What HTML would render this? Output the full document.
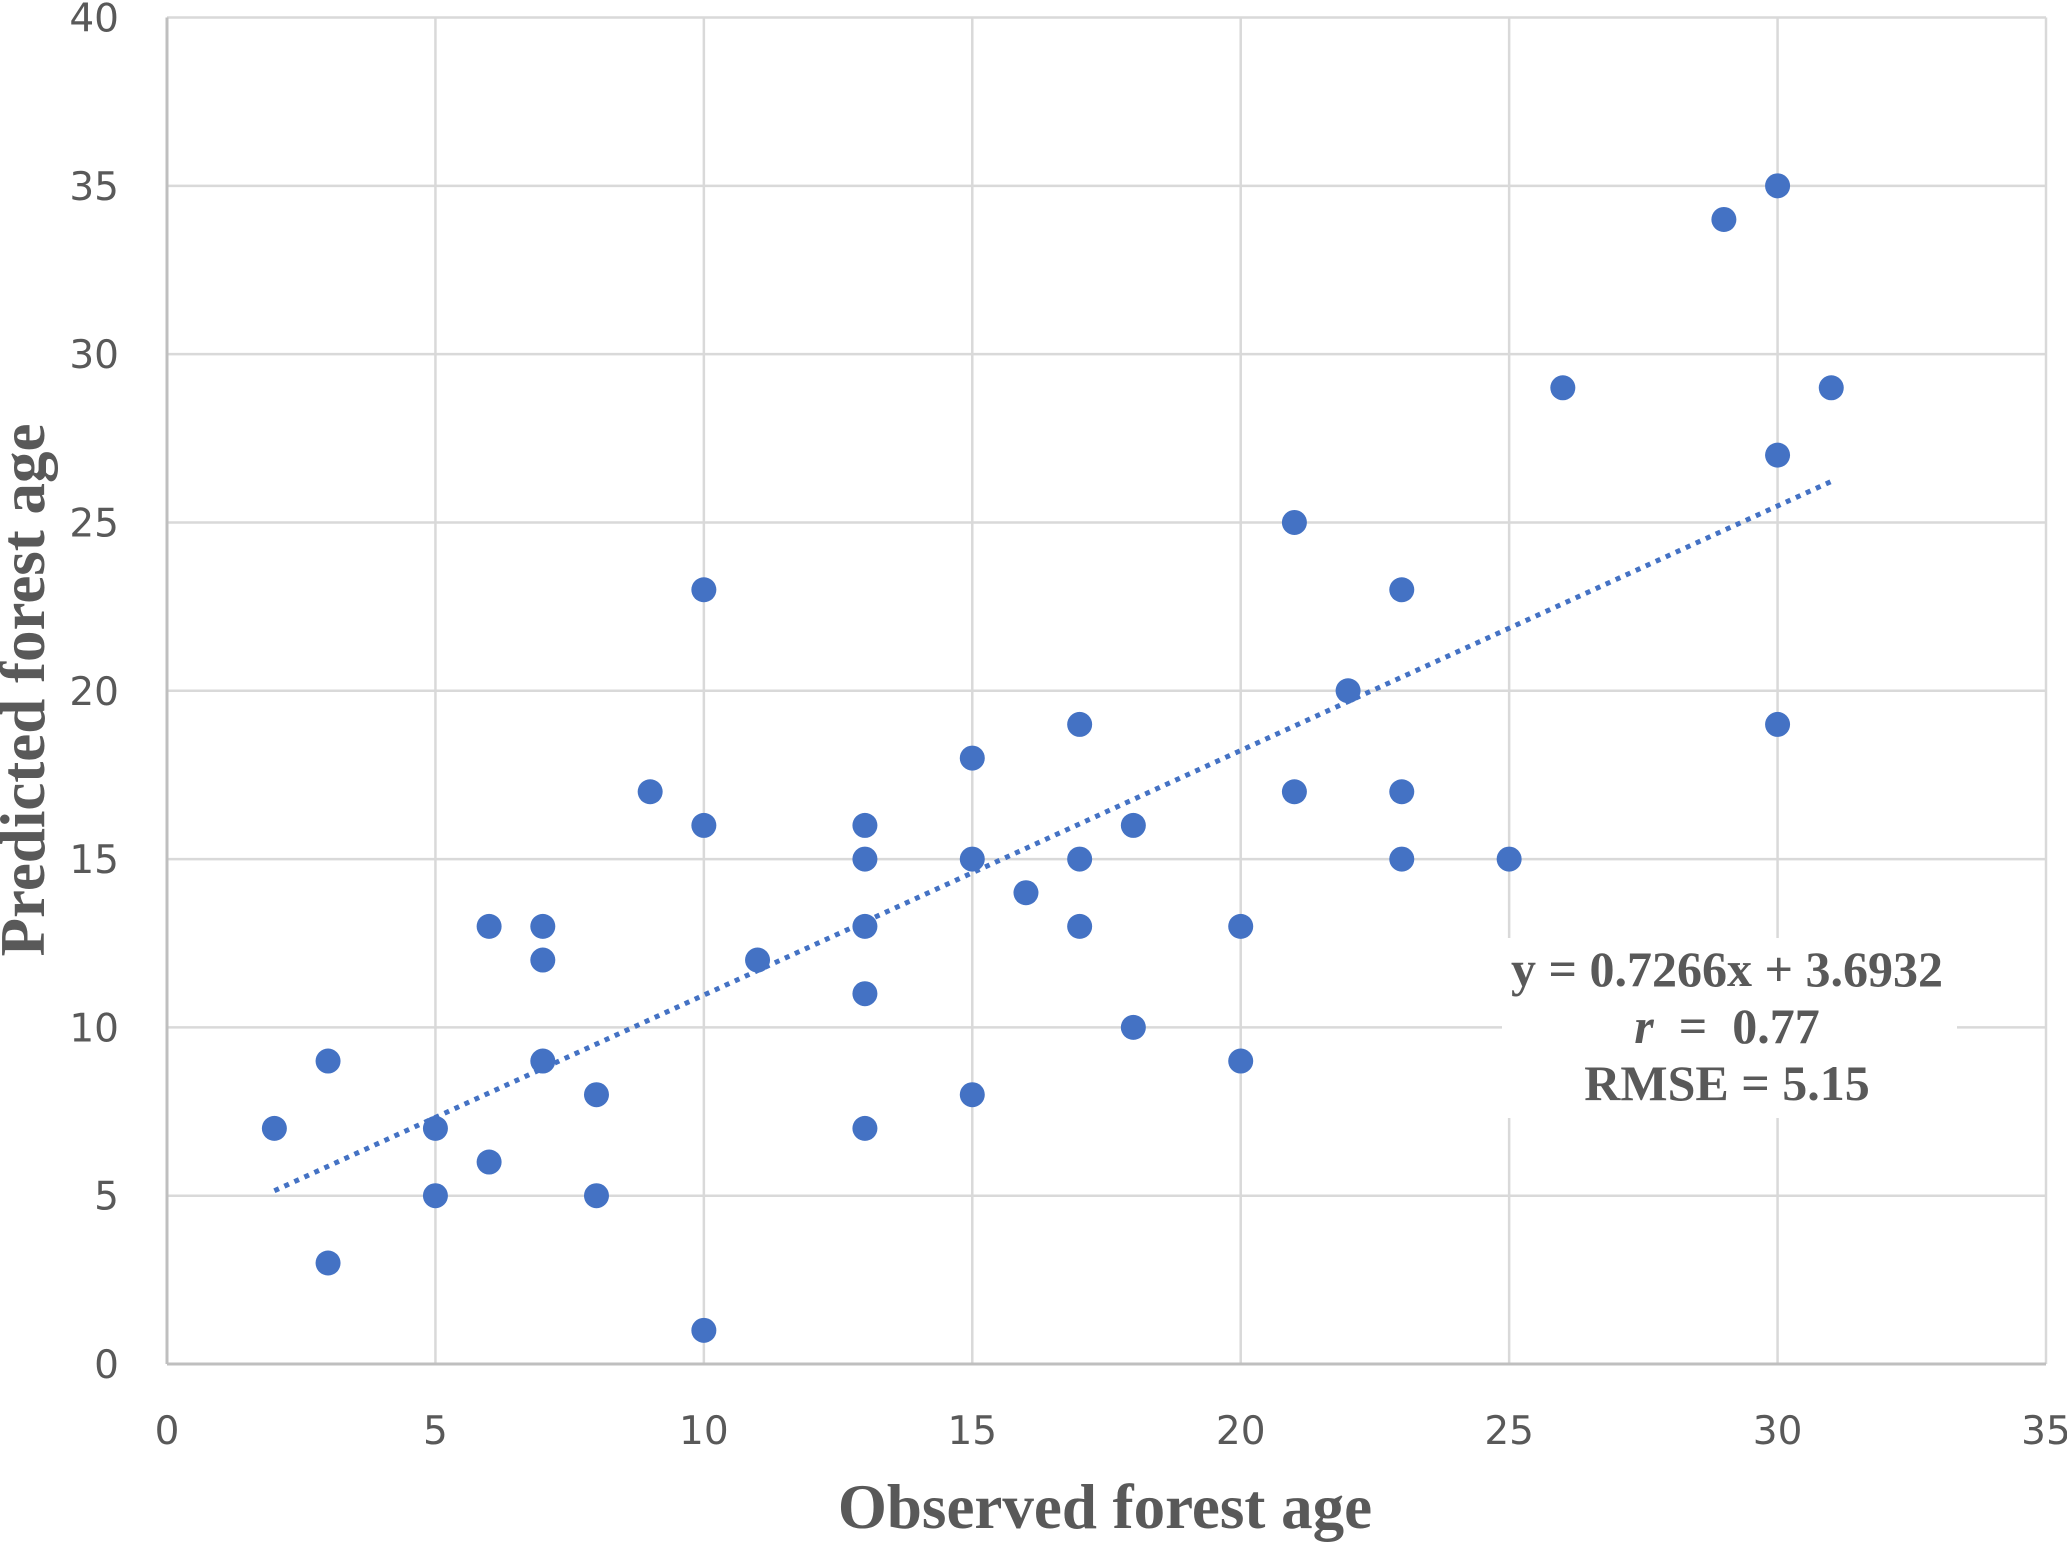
<!DOCTYPE html>
<html><head><meta charset="utf-8"><style>
html,body{margin:0;padding:0;background:#fff;}
svg{display:block;}
.tick{font-family:"DejaVu Sans","Liberation Sans",sans-serif;font-size:39px;fill:#595959;}
.title{font-family:"Liberation Serif",serif;font-weight:bold;font-size:63px;fill:#595959;}
.ann{font-family:"Liberation Serif",serif;font-weight:bold;font-size:50px;fill:#595959;}
</style></head><body>
<svg id="chart" width="2067" height="1542" viewBox="0 0 2067 1542" xmlns="http://www.w3.org/2000/svg"></svg>
<script>
const xTicks=[0,5,10,15,20,25,30,35];
const yTicks=[0,5,10,15,20,25,30,35,40];
const obsX=[2,3,3,5,5,6,6,7,7,7,8,8,9,10,10,10,11,13,13,13,13,13,15,15,15,16,17,17,17,18,18,20,20,21,21,22,23,23,23,25,26,29,30,30,30,31];
const predY=[7,9,3,7,5,13,6,13,12,9,8,5,17,23,16,1,12,16,15,13,11,7,18,15,8,14,19,15,13,16,10,13,9,25,17,20,23,17,15,15,29,34,35,27,19,29];
const slope=0.7266, intercept=3.6932;
const trendRange=[2,31];

const NS="http://www.w3.org/2000/svg";
const svg=document.getElementById('chart');
const X0=167,X1=2046,Y0=1364,Y1=17.5;
const sx=v=>X0+(X1-X0)*v/35;
const sy=v=>Y0-(Y0-Y1)*v/40;
function mk(tag,attrs,parent){const e=document.createElementNS(NS,tag);for(const k in attrs)e.setAttribute(k,attrs[k]);(parent||svg).appendChild(e);return e;}

const grid=mk('g',{});


yTicks.forEach(t=>{if(t===0)return;const l=mk('line',{x1:X0,x2:X1,y1:sy(t),y2:sy(t),stroke:'#d9d9d9','stroke-width':2.5},grid);

});
xTicks.forEach(t=>{if(t===0)return;const l=mk('line',{x1:sx(t),x2:sx(t),y1:Y0,y2:Y1,stroke:'#d9d9d9','stroke-width':2.5},grid);

});
const xa=mk('line',{x1:X0,x2:X1,y1:Y0,y2:Y0,stroke:'#bfbfbf','stroke-width':3});


const ya=mk('line',{x1:X0,x2:X0,y1:Y0,y2:Y1,stroke:'#bfbfbf','stroke-width':3});



yTicks.forEach(t=>{const e=mk('text',{x:119,y:sy(t)+14,'text-anchor':'end',class:'tick'});e.textContent=t;

});
xTicks.forEach(t=>{const e=mk('text',{x:sx(t),y:1444,'text-anchor':'middle',class:'tick'});e.textContent=t;

});

const tl=mk('line',{x1:sx(trendRange[0]),y1:sy(slope*trendRange[0]+intercept),x2:sx(trendRange[1]),y2:sy(slope*trendRange[1]+intercept),stroke:'#4472C4','stroke-width':5,'stroke-dasharray':'5 6'});



const pts=mk('g',{});


obsX.forEach((x,i)=>{const c=mk('circle',{cx:sx(x),cy:sy(predY[i]),r:12.5,fill:'#4472C4'},pts);

});

const box=mk('rect',{x:1502,y:938,width:455,height:180,fill:'#fff'});


const lines=[['y = 0.7266x + 3.6932',986,'equation-label'],['',1043,'r-label'],['RMSE = 5.15',1100,'rmse-label']];
lines.forEach(([t,y,n])=>{const e=mk('text',{x:1727,y:y,'text-anchor':'middle',class:'ann'});


if(n==='r-label'){e.setAttribute('xml:space','preserve');e.setAttribute('style','white-space:pre');const a=mk('tspan',{'font-style':'italic'},e);a.textContent='r';const b=mk('tspan',{},e);b.textContent='  =  0.77';}
else e.textContent=t;});

const xt=mk('text',{x:1105,y:1528,'text-anchor':'middle',class:'title'});xt.textContent='Observed forest age';


const yt=mk('text',{x:0,y:0,'text-anchor':'middle',class:'title',transform:'translate(44,690) rotate(-90)'});yt.textContent='Predicted forest age';


</script>
</body></html>
